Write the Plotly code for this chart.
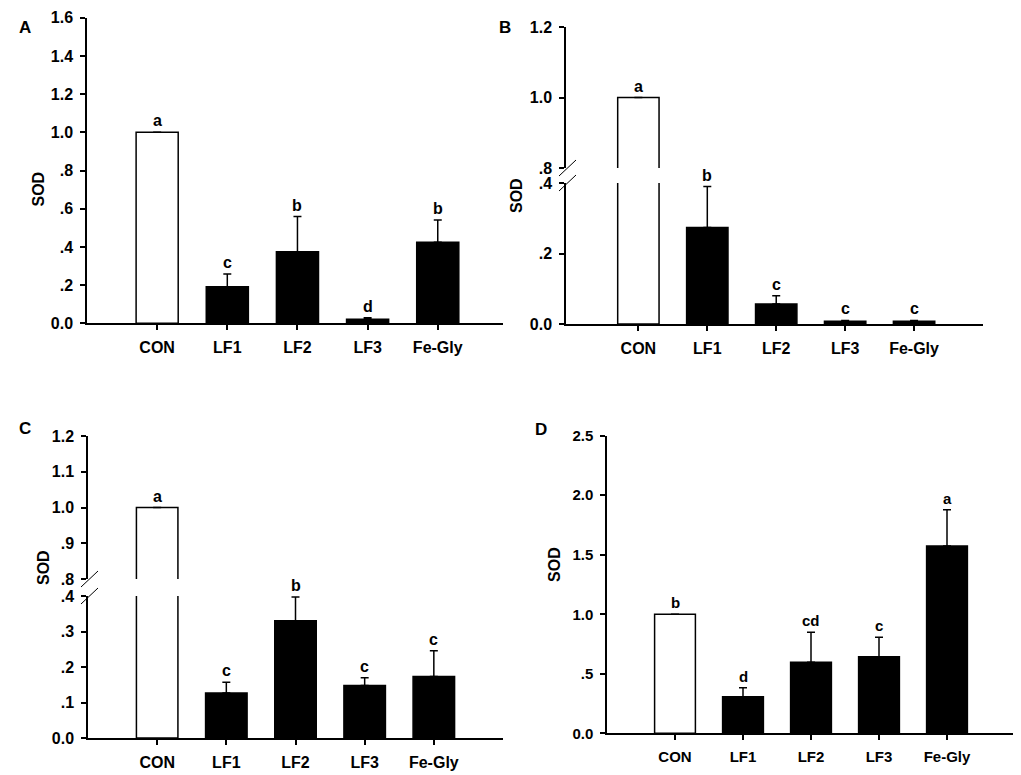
import plotly.graph_objects as go

groups = ["CON", "LF1", "LF2", "LF3", "Fe-Gly"]

a_mean = [1.0, 0.192, 0.375, 0.021, 0.424]
a_err = [0.0, 0.066, 0.184, 0.008, 0.117]
a_sig = ["a", "c", "b", "d", "b"]

b_mean = [1.0, 0.274, 0.057, 0.008, 0.008]
b_err = [0.0, 0.116, 0.023, 0.002, 0.002]
b_sig = ["a", "b", "c", "c", "c"]

c_mean = [1.0, 0.127, 0.330, 0.148, 0.173]
c_err = [0.0, 0.030, 0.067, 0.022, 0.073]
c_sig = ["a", "c", "b", "c", "c"]

d_mean = [1.0, 0.308, 0.597, 0.644, 1.574]
d_err = [0.0, 0.075, 0.252, 0.163, 0.303]
d_sig = ["b", "d", "cd", "c", "a"]

FONT = "Liberation Sans"
colors = ["white", "black", "black", "black", "black"]

# the page body adds an 8px margin, so the figure is a bit smaller and
# layout positions are given in window pixels and converted here
OFF = 8
W, H = 1021 - OFF, 775 - OFF


def px_x(x):
    return (x - OFF) / W


def px_y(y):
    return 1 - (y - OFF) / H


def dom_x(x0, x1):
    return [px_x(x0), px_x(x1)]


def dom_y(top, bottom):
    return [px_y(bottom), px_y(top)]


def bars(mean, err, xa, ya):
    return go.Bar(
        x=groups, y=mean, width=0.6, xaxis=xa, yaxis=ya,
        marker=dict(color=colors, line=dict(color="black", width=1.5)),
        error_y=dict(type="data", symmetric=False, array=err,
                     arrayminus=[0] * len(err), color="black",
                     thickness=1.5, width=4),
        showlegend=False, hoverinfo="skip",
    )


fig = go.Figure()
fig.add_trace(bars(a_mean, a_err, "x", "y"))
fig.add_trace(bars(b_mean, b_err, "x2", "y2"))
fig.add_trace(bars(b_mean, b_err, "x3", "y3"))
fig.add_trace(bars(c_mean, c_err, "x4", "y4"))
fig.add_trace(bars(c_mean, c_err, "x5", "y5"))
fig.add_trace(bars(d_mean, d_err, "x6", "y6"))

tf = dict(family=FONT, size=16, color="black", weight="bold")


def xax(dom, rng, anchor, visible=True, size=16):
    return dict(domain=dom, range=rng, anchor=anchor, type="category",
                showline=True, linecolor="black", linewidth=1.5,
                ticks="outside", ticklen=5, tickwidth=1.5, tickcolor="black",
                showgrid=False, zeroline=False, visible=visible,
                automargin=False,
                tickfont=dict(tf, size=size), ticklabelstandoff=4)


def yax(dom, rng, anchor, vals, texts, size=16):
    return dict(domain=dom, range=rng, anchor=anchor,
                showline=True, linecolor="black", linewidth=1.5,
                ticks="outside", ticklen=5, tickwidth=1.5, tickcolor="black",
                showgrid=False, zeroline=False, automargin=False,
                tickvals=vals, ticktext=texts,
                tickfont=dict(tf, size=size), ticklabelstandoff=4)


xa_dom = dom_x(87, 503)
xb_dom = dom_x(566, 983)
xc_dom = dom_x(88, 503)
xd_dom = dom_x(607, 1015)

fig.update_layout(
    width=W, height=H,
    margin=dict(l=0, r=0, t=0, b=0, autoexpand=False),
    paper_bgcolor="white", plot_bgcolor="white",
    xaxis=xax(xa_dom, [-1, 4.93], "y"),
    yaxis=yax(dom_y(17.7, 323.3), [0, 1.6], "x",
              [0, 0.2, 0.4, 0.6, 0.8, 1.0, 1.2, 1.4, 1.6],
              ["0.0", ".2", ".4", ".6", ".8", "1.0", "1.2", "1.4", "1.6"]),
    xaxis2=xax(xb_dom, [-1.05, 5.0], "y2"),
    yaxis2=yax(dom_y(183, 324), [0, 0.4], "x2",
               [0, 0.2, 0.4], ["0.0", ".2", ".4"]),
    xaxis3=dict(xax(xb_dom, [-1.05, 5.0], "y3", visible=False),
                matches="x2"),
    yaxis3=yax(dom_y(27, 168), [0.8, 1.2], "x3",
               [0.8, 1.0, 1.2], [".8", "1.0", "1.2"]),
    xaxis4=xax(xc_dom, [-1, 5.0], "y4"),
    yaxis4=yax(dom_y(596, 738), [0, 0.4], "x4",
               [0, 0.1, 0.2, 0.3, 0.4], ["0.0", ".1", ".2", ".3", ".4"]),
    xaxis5=dict(xax(xc_dom, [-1, 5.0], "y5", visible=False),
                matches="x4"),
    yaxis5=yax(dom_y(436, 579), [0.8, 1.2], "x5",
               [0.8, 0.9, 1.0, 1.1, 1.2], [".8", ".9", "1.0", "1.1", "1.2"]),
    xaxis6=xax(xd_dom, [-1, 5.0], "y6", size=15),
    yaxis6=yax(dom_y(435.7, 733.3), [0, 2.5], "x6",
               [0, 0.5, 1.0, 1.5, 2.0, 2.5],
               ["0.0", ".5", "1.0", "1.5", "2.0", "2.5"], size=15),
)


# significance letters above the bars
def letters(mean, err, sig, xa, ya, ya_up=None, brk=None, size=16):
    for g, m, e, s in zip(groups, mean, err, sig):
        top = m + e
        yref = ya_up if (ya_up and top > brk) else ya
        fig.add_annotation(x=g, y=top, xref=xa, yref=yref, text=s,
                           showarrow=False, yanchor="bottom", yshift=1,
                           font=dict(tf, size=size))


letters(a_mean, a_err, a_sig, "x", "y")
letters(b_mean, b_err, b_sig, "x2", "y2", "y3", 0.6)
letters(c_mean, c_err, c_sig, "x4", "y4", "y5", 0.6)
letters(d_mean, d_err, d_sig, "x6", "y6", size=15)

# axis break marks
for xa, ylow, yup in [("x2", "y2", "y3"), ("x4", "y4", "y5")]:
    for yr, anchor in [(yup, 0), (ylow, 1)]:
        fig.add_shape(type="line", xref=f"{xa} domain", yref=f"{yr} domain",
                      xsizemode="pixel", ysizemode="pixel",
                      xanchor=0, yanchor=anchor,
                      x0=-7, x1=10, y0=-8, y1=8,
                      line=dict(color="black", width=1))

# y titles and panel letters
for x, y in [(27.5, 170), (516.5, 176), (33, 587), (553.7, 583.7)]:
    fig.add_annotation(x=px_x(x), y=px_y(y), xref="paper", yref="paper",
                       text="SOD", textangle=-90, showarrow=False, font=tf)

for t, x, y in [("A", 17, 16), ("B", 505, 16), ("C", 17, 428), ("D", 541, 429)]:
    fig.add_annotation(x=px_x(x), y=px_y(y), xref="paper", yref="paper",
                       text=t, showarrow=False, font=dict(tf, size=17))

fig.write_html("out.html")
